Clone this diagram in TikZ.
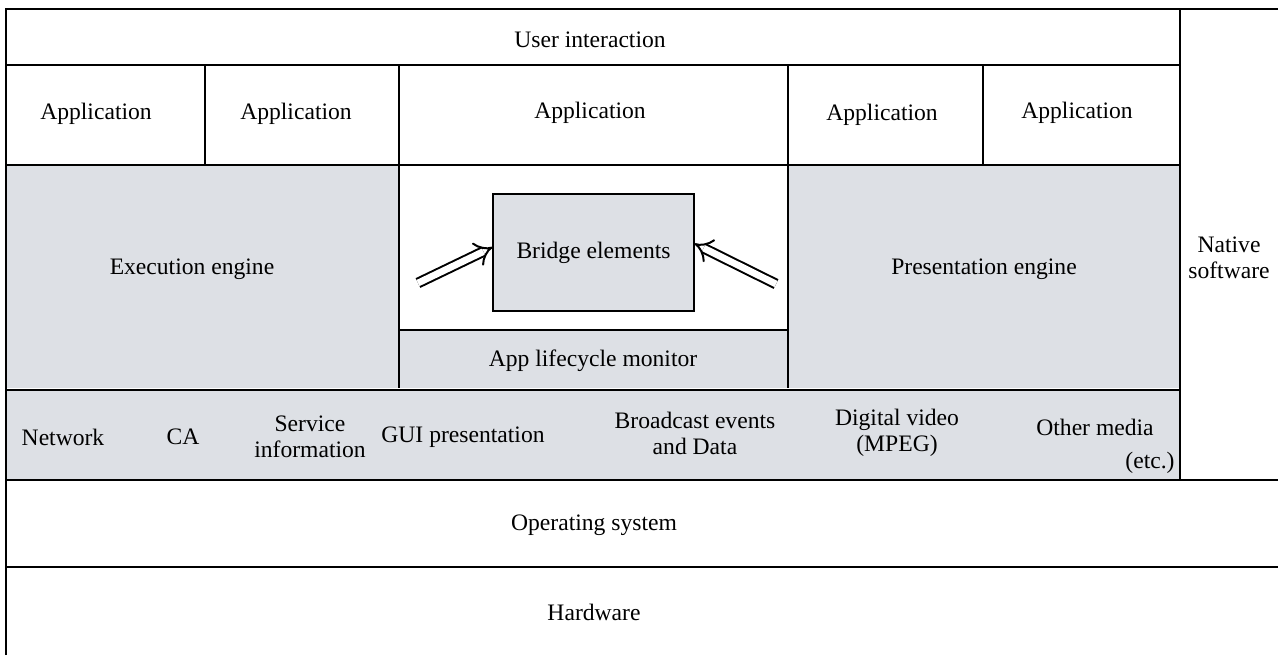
\documentclass[tikz,border=0pt]{standalone}
\usepackage{fontspec}
\setmainfont{Liberation Serif}
\usetikzlibrary{arrows.meta}
\definecolor{layergrey}{RGB}{221,224,229}

\begin{document}
\begin{tikzpicture}[x=0.5pt,y=-0.5pt,line width=0.6pt,
  font=\fontsize{11.8}{13}\selectfont,
  lbl/.style={align=center,inner sep=0pt},
  thickline/.style={line width=1.3pt},
  bridgebox/.style={draw,fill=layergrey,minimum width=100.5pt,minimum height=58.5pt,lbl},
  hollowarrow/.style={double,double distance=3.4pt,line width=1pt,-{Implies[scale=1.7]}}]
\useasboundingbox (0,0) rectangle (1278,655);
	%FILLS
	\fill[layergrey] (6,165) rectangle (399,388);
	\fill[layergrey] (788,165) rectangle (1180,388);
	\fill[layergrey] (399,330) rectangle (788,388);
	%GRID LINES
	\draw[thickline] (6,655) -- (6,9) -- (1278,9);
	\draw (1180,9) -- (1180,480);
	\draw (6,65) -- (1180,65);
	\draw[thickline] (6,165) -- (1180,165);
	\draw (205,65) -- (205,165);
	\draw (399,65) -- (399,388);
	\draw (788,65) -- (788,388);
	\draw[thickline] (983,65) -- (983,165);
	\draw (399,330) -- (788,330);
	\draw[thickline,fill=layergrey] (6,390) rectangle (1180,480);
	\draw[thickline] (1180,480) -- (1278,480);
	\draw[thickline] (6,567) -- (1278,567);

	\node[lbl] (user) at (590,40) {User interaction};
	\node[lbl] (app1) at (96,114) {Application};
	\node[lbl] (app2) at (296,114) {Application};
	\node[lbl] (app3) at (590,113) {Application};
	\node[lbl] (app4) at (882,115) {Application};
	\node[lbl] (app5) at (1077,113) {Application};
	\node[lbl] (exec) at (192,269) {Execution engine};
	\node[lbl] (pres) at (984,269) {Presentation engine};
	\node[lbl] (monitor) at (593,361) {App lifecycle monitor};
	\node[lbl] (native) at (1229,258) {Native\\software};

	\node[bridgebox] (bridge) at (593.5,252.5) {Bridge elements};
	\coordinate (leftend) at (418,283);
	\coordinate (rightend) at (776,284);
	\draw[hollowarrow] (leftend) -- (bridge.177);
	\draw[hollowarrow] (rightend) -- (bridge.5);

	%MEDIA ROW
	\node[lbl] (network) at (63,437) {Network};
	\node[lbl] (ca) at (183,437) {CA};
	\node[lbl] (si) at (310,437) {Service\\information};
	\node[lbl] (gui) at (463,437) {GUI presentation};
	\node[lbl] (bcast) at (695,433) {Broadcast events\\and Data};
	\node[lbl] (video) at (897,433) {Digital video\\(MPEG)};
	\node[lbl] (other) at (1095,427) {Other media};
	\node[lbl] (etc) at (1150,463) {(etc.)};

	\node[lbl] (os) at (594,525) {Operating system};
	\node[lbl] (hw) at (594,612) {Hardware};
\end{tikzpicture}
\end{document}
